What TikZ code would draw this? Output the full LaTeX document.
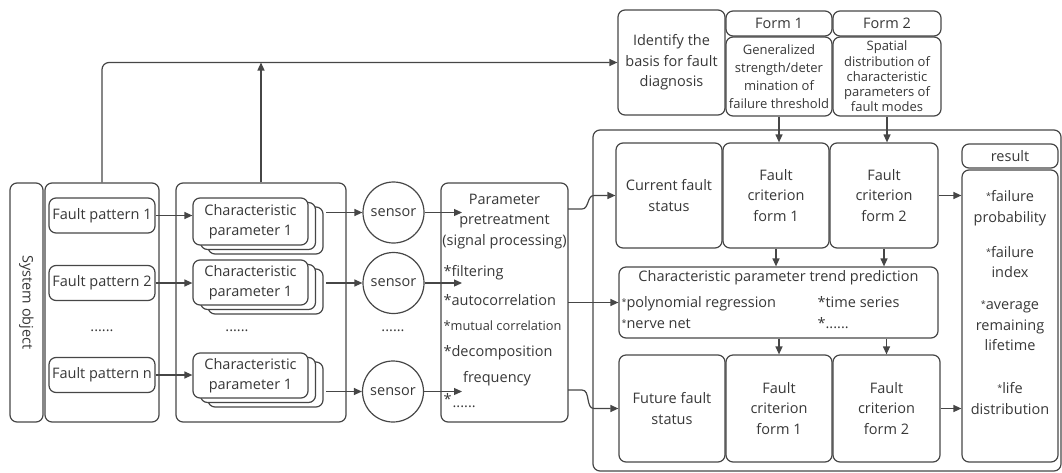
\documentclass[tikz,border=0pt]{standalone}
\usepackage{fontspec}
\setmainfont{Open Sans}
\usetikzlibrary{arrows.meta}
\usetikzlibrary{shadows}
\definecolor{linec}{RGB}{70,70,70}
\definecolor{textc}{RGB}{55,55,55}
\tikzset{every picture/.style={line width=1.2pt}}
\newcommand{\mainsize}{\fontsize{14.5}{20.5}\selectfont}
\newcommand{\formsize}{\fontsize{13}{18}\selectfont}
\newcommand{\smst}{\raisebox{2pt}{\fontsize{9}{9}\selectfont *}}

\begin{document}
\begin{tikzpicture}[x=1pt,y=1pt,yscale=-1,xscale=1,
  box/.style={draw=linec, rounded corners=7pt, align=center, inner sep=1pt, text=textc, font=\mainsize},
  fault/.style={box, minimum width=106pt, minimum height=35pt},
  stackbox/.style={box, fill=white, minimum width=115pt,
    copy shadow={shadow xshift=15pt, shadow yshift=-9pt, draw=linec},
    copy shadow={shadow xshift=7.5pt, shadow yshift=-4.5pt, draw=linec}},
  sensor/.style={draw=linec, circle, minimum size=61pt, inner sep=0pt, text=textc, font=\mainsize},
  crit/.style={box, minimum height=105pt},
  plain/.style={text=textc, font=\mainsize, inner sep=0pt, align=center},
  arr/.style={draw=linec, -{Triangle[length=8pt,width=7pt]}}]
\useasboundingbox (0,0) rectangle (1062,472);

%Shape: System object [vertical]
\node[box, rotate=-90, minimum width=239pt, minimum height=33pt] (sys) at (26.5,302.5) {System object};

%Shape: fault patterns
\node[box, minimum width=114pt, minimum height=239pt] (fpc) at (102,302.5) {};
\node[fault] (fp1) at (102,215.5) {Fault pattern 1};
\node[fault] (fp2) at (102,283) {Fault pattern 2};
\node[plain] (fpd) at (102,331) {......};
\node[fault] (fpn) at (102,375) {Fault pattern n};

%Shape: characteristic parameters
\node[box, minimum width=170pt, minimum height=239pt] (cpc) at (261,302.5) {};
\node[stackbox, minimum height=47pt] (cp1) at (250.5,221.5) {Characteristic\\parameter 1};
\node[stackbox, minimum height=45pt] (cp2) at (250.5,282.5) {Characteristic\\parameter 1};
\node[plain] (cpd) at (237,331) {......};
\node[stackbox, minimum height=45pt] (cp3) at (250.5,375.5) {Characteristic\\parameter 1};

%Shape: sensors
\node[sensor] (s1) at (393.5,212.5) {sensor};
\node[sensor] (s2) at (393.5,283) {sensor};
\node[plain] (sd) at (393,331) {......};
\node[sensor] (s3) at (393,391.5) {sensor};

%Shape: parameter pretreatment
\node[box, minimum width=127pt, minimum height=239pt] (pre) at (504.5,302.5) {};
\node[plain] (pret) at (504.5,221.5) {Parameter\\pretreatment\\(signal processing)};
\node[plain, anchor=west] (pl1) at (443,273) {*filtering};
\node[plain, anchor=west] (pl2) at (443,300) {*autocorrelation};
\node[plain, anchor=west, font=\fontsize{12.8}{16}\selectfont] (pl3) at (443,326) {*mutual correlation};
\node[plain, anchor=west] (pl4) at (443,353) {*decomposition};
\node[plain] (pl5) at (497,379) {frequency};
\node[plain, anchor=west] (pl6) at (443,399) {*};
\node[plain, anchor=west] (pl7) at (452,407) {......};

%Shape: right container
\node[box, minimum width=468pt, minimum height=341pt] (rc) at (827,300.5) {};

%Shape: top row
\node[box, minimum width=107pt, minimum height=105pt] (ident) at (671.5,62.5) {Identify the\\basis for fault\\diagnosis};
\node[box, minimum width=106pt, minimum height=25pt] (f1l) at (779,23.5) {Form 1};
\node[box, minimum width=106pt, minimum height=79pt, font=\formsize] (f1) at (779,76.5) {Generalized\\strength/deter\\mination of\\failure threshold};
\node[box, minimum width=108pt, minimum height=25pt] (f2l) at (887,23.5) {Form 2};
\node[box, minimum width=108pt, minimum height=79pt, font=\fontsize{13}{15.3}\selectfont] (f2) at (887,76.5) {Spatial\\distribution of\\characteristic\\parameters of\\fault modes};

%Shape: current state row
\node[crit, minimum width=106pt] (cur) at (669,195.5) {Current fault\\status};
\node[crit, minimum width=106pt] (fc1) at (776,195.5) {Fault\\criterion\\form 1};
\node[crit, minimum width=108pt] (fc2) at (884,195.5) {Fault\\criterion\\form 2};

%Shape: trend prediction
\node[box, minimum width=319pt, minimum height=71pt] (trend) at (778.5,302.5) {};
\node[plain] (trt) at (778.5,278) {Characteristic parameter trend prediction};
\node[plain, anchor=west, align=left] (trl) at (621,312.5) {\smst polynomial regression\\\smst nerve net};
\node[plain, anchor=west, align=left] (trr) at (817,312.5) {*time series\\*......};

%Shape: future state row
\node[crit, minimum width=106pt, minimum height=107pt] (fut) at (672,408.5) {Future fault\\status};
\node[crit, minimum width=106pt, minimum height=107pt] (ffc1) at (779,408.5) {Fault\\criterion\\form 1};
\node[crit, minimum width=107pt, minimum height=107pt] (ffc2) at (886.5,408.5) {Fault\\criterion\\form 2};

%Shape: result
\node[box, minimum width=96pt, minimum height=24pt] (resl) at (1010,156) {result};
\node[box, minimum width=96pt, minimum height=292pt] (res) at (1010,316) {};
\node[plain, anchor=north] (rest) at (1010,190) {\smst failure\\probability\\[14.5pt]\smst failure\\index\\[11.5pt]\smst average\\remaining\\lifetime\\[22.5pt]\smst life\\distribution};

%Straight Lines: left part
\draw[arr, rounded corners=7pt] (fpc.north) |- (ident.west);
\draw[arr] (cpc.north) -- (cpc.north |- ident.west);
\draw[arr] (fp1.east) -- (fp1.east -| cp1.west);
\draw[arr] (fp2.east) -- (fp2.east -| cp2.west);
\draw[arr] (fpn.east) -- (fpn.east -| cp3.west);
\coordinate (c1) at (326,212.5);
\coordinate (c2) at (326,283);
\coordinate (c3) at (326,391.5);
\draw[arr] (c1) -- (s1);
\draw[arr] (c2) -- (s2);
\draw[arr] (c3) -- (s3);
\coordinate (p1) at (462,212.5);
\coordinate (p2) at (462,283);
\coordinate (p3) at (462,391.5);
\draw[arr] (s1) -- (p1);
\draw[arr] (s2) -- (p2);
\draw[arr] (s3) -- (p3);

%Curves: pretreatment to states
\coordinate (o1) at (568,209);
\coordinate (o2) at (568,302.5);
\coordinate (o3) at (568,390);
\draw[arr] (o1) -- ++(14,0) to[out=0,in=180] ++(12,-13.5) -- (cur.west);
\draw[arr] (o2) -- (trend.west);
\draw[arr] (o3) -- ++(14,0) to[out=0,in=180] ++(12,18.5) -- (fut.west);

%Straight Lines: right part
\draw[arr] (f1.south) -- (f1.south |- fc1.north);
\draw[arr] (f2.south) -- (f2.south |- fc2.north);
\draw[arr] (fc1.south) -- (fc1.south |- trend.north);
\draw[arr] (fc2.south) -- (fc2.south |- trend.north);
\draw[arr] (ffc1.north |- trend.south) -- (ffc1.north);
\draw[arr] (ffc2.north |- trend.south) -- (ffc2.north);
\draw[arr] (fc2.east) -- (fc2.east -| res.west);
\draw[arr] (ffc2.east) -- (ffc2.east -| res.west);

\end{tikzpicture}
\end{document}
